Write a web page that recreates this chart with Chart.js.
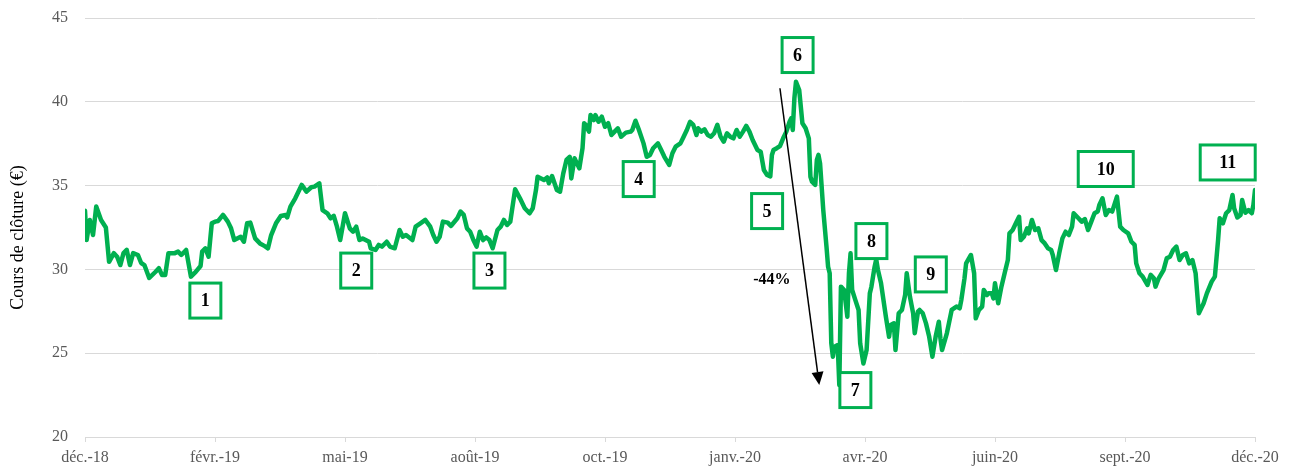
<!DOCTYPE html>
<html><head><meta charset="utf-8">
<script src="https://cdn.jsdelivr.net/npm/chart.js@4"></script>
<style>html,body{margin:0;padding:0;background:#fff}#wrap{width:1300px;height:471px}</style>
</head><body><div id="wrap"><canvas id="c" width="1300" height="471"></canvas></div>
<script>
// Days counted from the first quote (déc.-18)
const days = [
0,1,3,5,7,10,13,15,18,20,
22,24,26,28,30,33,35,37,40,44,
46,48,50,52,56,58,60,63,66,69,
72,73,75,77,79,81,83,86,89,91,
93,97,99,101,103,106,109,112,114,116,
119,122,125,126,128,131,135,138,141,143,
146,148,151,153,155,157,159,162,165,167,
169,171,173,177,178,181,183,185,188,190,
193,196,198,200,204,206,209,212,215,217,
219,221,223,226,228,232,234,236,238,240,
242,244,246,248,250,252,254,257,259,261,
263,265,268,271,274,277,279,281,282,286,
288,289,291,294,296,298,299,300,302,303,
305,306,308,310,311,312,314,315,317,318,
320,322,324,326,328,330,332,334,337,340,
341,343,345,348,350,352,354,357,359,361,
364,366,368,371,373,375,377,379,381,382,
384,386,388,390,392,394,396,398,400,402,
404,406,408,410,412,414,416,419,421,423,
425,427,428,429,431,433,435,437,439,440,
441,442,443,445,447,449,451,452,453,455,
456,457,458,460,462,463,464,465,466,467,
469,470,471,473,474,475,476,477,478,480,
482,483,485,487,489,490,492,493,494,496,
499,501,502,504,505,507,509,511,512,514,
516,517,519,520,522,524,526,528,530,532,
533,534,537,540,543,545,546,548,549,552,
554,555,557,559,560,562,563,565,566,567,
569,571,573,575,576,578,580,582,583,585,
587,588,590,592,594,596,598,600,602,603,
605,607,609,611,613,615,616,619,621,623,
625,627,629,631,632,634,636,638,640,642,
643,645,647,650,652,654,655,657,659,662,
664,666,667,669,672,674,676,678,680,682,
684,686,688,690,692,694,697,699,702,704,
706,707,709,711,713,715,716,718,720,721,
723,725,727,728,729
];
const prices = [
33.5,31.75,32.95,32.05,33.75,32.95,32.5,30.45,30.97,30.76,
30.26,30.97,31.16,30.26,30.97,30.86,30.38,30.26,29.49,29.86,
30.07,29.67,29.67,30.97,30.97,31.06,30.86,31.16,29.57,29.85,
30.2,31.06,31.26,30.76,32.75,32.85,32.89,33.25,32.85,32.45,
31.75,31.95,31.65,32.75,32.79,31.85,31.55,31.39,31.26,32.05,
32.75,33.19,33.25,33.1,33.75,34.24,35.04,34.64,34.9,34.94,
35.14,33.54,33.35,33.05,33.19,32.55,31.75,33.35,32.45,32.25,
32.55,31.75,31.85,31.65,31.26,31.16,31.46,31.36,31.65,31.36,
31.26,32.35,31.95,32.05,31.75,32.55,32.75,32.95,32.57,32.05,
31.65,31.95,32.85,32.79,32.59,33.05,33.45,33.25,32.45,32.25,
31.75,31.36,32.25,31.75,31.91,31.75,31.26,32.35,32.55,32.95,
32.65,32.85,34.78,34.24,33.65,33.35,33.65,34.74,35.53,35.33,
35.49,35.14,35.57,34.74,34.64,35.73,36.13,36.53,36.72,35.43,
36.63,36.43,36.03,37.23,38.72,38.62,38.22,39.21,38.91,39.21,
38.81,39.11,38.51,38.72,38.02,38.22,38.42,37.92,38.16,38.22,
38.32,38.87,38.36,37.52,36.72,36.83,37.23,37.52,37.12,36.72,
36.23,36.93,37.32,37.52,37.92,38.32,38.81,38.62,38.02,38.42,
38.22,38.36,38.02,37.92,38.12,38.62,37.92,37.62,38.12,37.92,
37.82,38.32,37.92,38.22,38.56,38.22,37.72,37.12,37.02,35.93,
35.63,35.55,36.83,37.12,37.23,37.36,37.82,38.22,38.81,39.01,
38.32,40.21,41.2,40.7,38.72,38.42,37.82,35.53,35.23,35.04,
36.53,36.83,36.33,33.54,31.36,30.16,29.77,25.59,24.79,25.39,
25.49,23.1,28.97,28.77,27.98,27.18,29.77,30.96,28.77,28.17,
27.58,25.59,24.39,25.19,28.57,28.97,30.16,30.6,30.0,29.17,
27.18,25.98,26.68,26.78,25.19,27.38,27.58,28.47,29.77,28.37,
27.38,26.19,27.48,27.58,27.38,26.78,25.98,24.79,25.98,26.88,
25.88,25.19,26.19,27.58,27.78,27.68,28.17,29.47,30.36,30.86,
29.77,27.08,27.58,27.78,28.77,28.47,28.57,28.57,28.27,29.17,
27.98,28.97,29.77,30.56,32.15,32.35,32.75,33.14,31.75,31.95,
32.45,32.15,32.95,32.35,32.45,31.75,31.55,31.26,31.16,30.86,
29.96,30.96,31.85,32.25,32.05,32.55,33.35,33.05,32.85,33.0,
32.35,32.85,33.35,33.45,33.84,34.24,33.25,33.54,33.45,34.04,
34.34,32.55,32.35,32.15,31.65,31.46,30.36,29.77,29.57,29.07,
29.67,29.47,28.97,29.47,29.96,30.66,30.76,31.16,31.36,30.56,
30.86,30.96,30.36,30.56,29.77,27.38,27.98,28.57,29.27,29.57,
31.75,33.05,32.75,33.35,33.54,34.44,33.65,33.1,33.25,34.14,
33.38,33.54,33.35,33.84,34.74
];
const tickDays = [0,81,162,243,324,405,486,567,648,729];
const tickLabels = ['déc.-18','févr.-19','mai-19','août-19','oct.-19','janv.-20','avr.-20','juin-20','sept.-20','déc.-20'];
const yTitle = 'Cours de clôture (€)';
// numbered callouts (day, price)
const annoLabels = ['1','2','3','4','5','6','7','8','9','10','11'];
const annoDays   = [75,169,252,345,425,444,480,490,527,636,712];
const annoValues = [28.14,29.93,29.93,35.39,33.48,42.79,22.80,31.69,29.70,35.99,36.38];
// drop arrow and label
const arrowFrom = [433,40.81];
const arrowTo = [457.5,23.1];
const dropLabel = '-44%';
const dropAt = [428,29.37];

const GREEN = '#00B050';
const SERIF = '"Liberation Serif","Times New Roman",serif';

const overlay = {
  id:'overlay',
  afterDatasetsDraw(chart){
    const ctx = chart.ctx, xs = chart.scales.x, ys = chart.scales.y;
    ctx.save();
    // arrow
    const x1 = xs.getPixelForValue(arrowFrom[0]), y1 = ys.getPixelForValue(arrowFrom[1]);
    const x2 = xs.getPixelForValue(arrowTo[0]), y2 = ys.getPixelForValue(arrowTo[1]);
    const ang = Math.atan2(y2-y1, x2-x1), L = 13, W = 6;
    const bx = x2 - L*Math.cos(ang), by = y2 - L*Math.sin(ang);
    ctx.strokeStyle = '#000'; ctx.lineWidth = 1.5;
    ctx.beginPath(); ctx.moveTo(x1,y1); ctx.lineTo(bx,by); ctx.stroke();
    ctx.fillStyle = '#000';
    ctx.beginPath(); ctx.moveTo(x2,y2);
    ctx.lineTo(bx + W*Math.sin(ang), by - W*Math.cos(ang));
    ctx.lineTo(bx - W*Math.sin(ang), by + W*Math.cos(ang));
    ctx.closePath(); ctx.fill();
    // drop label
    ctx.font = 'bold 16px ' + SERIF; ctx.textAlign = 'center'; ctx.textBaseline = 'middle';
    ctx.fillText(dropLabel, xs.getPixelForValue(dropAt[0]), ys.getPixelForValue(dropAt[1]));
    // boxes
    ctx.font = 'bold 18px ' + SERIF;
    annoLabels.forEach((t,i)=>{
      const cx = xs.getPixelForValue(annoDays[i]), cy = ys.getPixelForValue(annoValues[i]);
      const w = t.length > 1 ? 55 : 31, h = 35;
      ctx.fillStyle = '#fff';
      ctx.fillRect(cx-w/2, cy-h/2, w, h);
      ctx.strokeStyle = GREEN; ctx.lineWidth = 3;
      ctx.strokeRect(cx-w/2, cy-h/2, w, h);
      ctx.fillStyle = '#000';
      ctx.fillText(t, cx, cy+1);
    });
    // y title
    ctx.translate(18, (ys.top+ys.bottom)/2 + 10);
    ctx.rotate(-Math.PI/2);
    ctx.font = '18px ' + SERIF; ctx.fillStyle = '#000';
    ctx.fillText(yTitle, 0, 0);
    ctx.restore();
  }
};

new Chart(document.getElementById('c'), {
  type:'line',
  data:{ datasets:[{
    data: days.map((d,i)=>({x:d, y:prices[i]})),
    borderColor: GREEN, borderWidth: 4.5, pointRadius: 0, tension: 0,
    borderJoinStyle:'round', borderCapStyle:'round', fill:false
  }]},
  options:{
    responsive:false, animation:false, devicePixelRatio:1,
    layout:{ padding:{ top:18, right:45, bottom:0, left:0 } },
    plugins:{ legend:{display:false}, tooltip:{enabled:false} },
    scales:{
      x:{
        type:'linear', min:0, max:729,
        afterBuildTicks(s){ s.ticks = tickDays.map(v=>({value:v})); },
        afterFit(s){ s.height = 34; },
        ticks:{ autoSkip:false, maxRotation:0, padding:6, color:'#595959',
          font:{ family:SERIF, size:16 },
          callback(v){ const k = tickDays.indexOf(v); return k>=0 ? tickLabels[k] : ''; } },
        grid:{ drawOnChartArea:false, drawTicks:true, tickLength:5, color:'#d9d9d9' },
        border:{ display:true, color:'#d9d9d9', width:1 }
      },
      y:{
        min:20, max:45,
        afterFit(s){ s.width = 85; s.paddingTop = 0; s.paddingBottom = 0; },
        ticks:{ stepSize:5, padding:17, color:'#595959', font:{ family:SERIF, size:16 } },
        grid:{ color:'#d9d9d9', drawTicks:false, lineWidth:1 },
        border:{ display:false }
      }
    }
  },
  plugins:[overlay]
});
</script>
</body></html>
